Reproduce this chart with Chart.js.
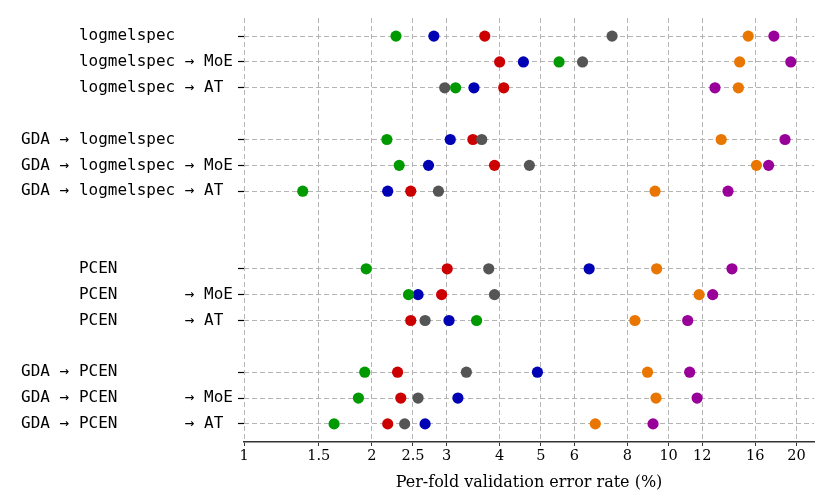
<!DOCTYPE html>
<html>
<head>
<meta charset="utf-8">
<script src="https://cdn.jsdelivr.net/npm/chart.js@4.4.1/dist/chart.umd.min.js"></script>
<style>
  body { margin: 0; background: #fff; }
  #wrap { width: 831px; height: 502px; }
</style>
</head>
<body>
<div id="wrap"><canvas id="chart"></canvas></div>
<script>
// rows, top to bottom; '' = empty gap row
var categories = [
  '      logmelspec      ',
  '      logmelspec → MoE',
  '      logmelspec → AT ',
  '',
  'GDA → logmelspec      ',
  'GDA → logmelspec → MoE',
  'GDA → logmelspec → AT ',
  '',
  '',
  '      PCEN            ',
  '      PCEN       → MoE',
  '      PCEN       → AT ',
  '',
  'GDA → PCEN            ',
  'GDA → PCEN       → MoE',
  'GDA → PCEN       → AT '
];

// error rate (%) per row, one array per fold colour (null for gap rows)
var foldGreen  = [2.28, 5.52, 3.15, null, 2.17, 2.32, 1.375, null, null, 1.94, 2.44, 3.53, null, 1.925, 1.86, 1.63];
var foldGray   = [7.36, 6.27, 2.97, null, 3.63, 4.70, 2.87, null, null, 3.77, 3.89, 2.67, null, 3.34, 2.57, 2.39];
var foldBlue   = [2.80, 4.55, 3.48, null, 3.06, 2.72, 2.18, null, null, 6.50, 2.57, 3.04, null, 4.91, 3.19, 2.67];
var foldRed    = [3.69, 4.00, 4.09, null, 3.46, 3.89, 2.47, null, null, 3.01, 2.92, 2.47, null, 2.30, 2.34, 2.18];
var foldOrange = [15.4, 14.7, 14.6, null, 13.3, 16.1, 9.29, null, null, 9.37, 11.8, 8.33, null, 8.92, 9.34, 6.72];
var foldPurple = [17.7, 19.4, 12.86, null, 18.8, 17.2, 13.8, null, null, 14.1, 12.7, 11.09, null, 11.21, 11.67, 9.19];

var xTicks = [1, 1.5, 2, 2.5, 3, 4, 5, 6, 8, 10, 12, 16, 20];

function points(vals) {
  var out = [];
  vals.forEach(function (v, i) {
    if (v !== null) out.push({ x: v, y: i });
  });
  return out;
}

var rowIdx = [];
categories.forEach(function (c, i) { if (c !== '') rowIdx.push(i); });

var series = [
  { label: 'green',  data: foldGreen,  color: '#009a00' },
  { label: 'gray',   data: foldGray,   color: '#555555' },
  { label: 'blue',   data: foldBlue,   color: '#0000b4' },
  { label: 'red',    data: foldRed,    color: '#cc0000' },
  { label: 'orange', data: foldOrange, color: '#e97600' },
  { label: 'purple', data: foldPurple, color: '#990099' }
];

var ctx = document.getElementById('chart').getContext('2d');
new Chart(ctx, {
  type: 'scatter',
  data: {
    datasets: series.map(function (s) {
      return {
        label: s.label,
        data: points(s.data),
        backgroundColor: s.color,
        borderWidth: 0,
        pointRadius: 5.6,
        pointHoverRadius: 5.6
      };
    })
  },
  options: {
    responsive: true,
    maintainAspectRatio: false,
    animation: false,
    layout: { padding: { top: 18, right: 17, left: 0, bottom: 0 } },
    plugins: { legend: { display: false }, tooltip: { enabled: false } },
    scales: {
      x: {
        type: 'logarithmic',
        min: 1,
        max: 22,
        afterBuildTicks: function (scale) {
          scale.ticks = xTicks.map(function (v) { return { value: v }; });
        },
        afterFit: function (scale) { scale.height = 60; },
        ticks: {
          autoSkip: false,
          maxRotation: 0,
          padding: 2,
          color: '#000',
          font: { family: 'DejaVu Serif', size: 14.5 },
          callback: function (v) { return String(v); }
        },
        grid: {
          color: '#b4b4b4',
          tickBorderDash: [],
          tickColor: '#333',
          tickLength: 4,
          lineWidth: 1
        },
        border: { display: true, color: '#333', width: 1.6, dash: [5, 3] },
        title: {
          display: true,
          text: 'Per-fold validation error rate (%)',
          color: '#000',
          padding: { top: 2, bottom: 10 },
          font: { family: 'DejaVu Serif', size: 16 }
        }
      },
      y: {
        type: 'linear',
        reverse: true,
        min: -0.7,
        max: categories.length - 1 + 0.7,
        afterBuildTicks: function (scale) {
          scale.ticks = rowIdx.map(function (v) { return { value: v }; });
        },
        afterFit: function (scale) { scale.width = 244; },
        ticks: {
          autoSkip: false,
          padding: 5,
          color: '#000',
          font: { family: 'DejaVu Sans Mono', size: 16 },
          callback: function (v) { return categories[v]; }
        },
        grid: {
          color: '#b4b4b4',
          tickBorderDash: [],
          tickColor: '#000',
          tickLength: 6,
          tickWidth: 1.2,
          lineWidth: 1
        },
        border: { display: false, dash: [5, 3] }
      }
    }
  }
});
</script>
</body>
</html>
